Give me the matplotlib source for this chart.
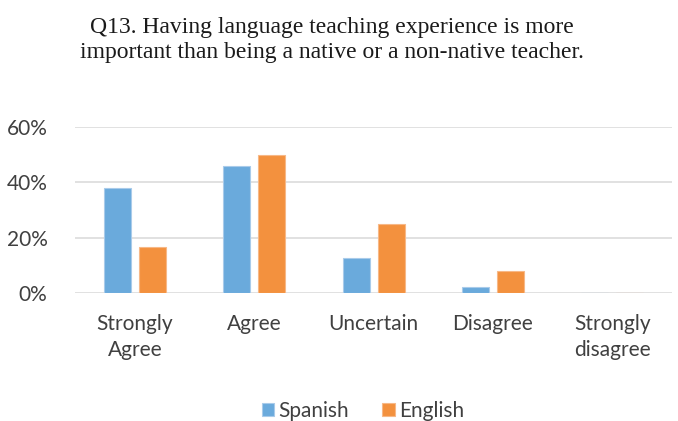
import numpy as np
import matplotlib
matplotlib.use("Agg")
import matplotlib.pyplot as plt
from matplotlib.ticker import PercentFormatter

categories = ["Strongly\nAgree", "Agree", "Uncertain", "Disagree", "Strongly\ndisagree"]
spanish = [0.38, 0.46, 0.127, 0.022, 0.0]
english = [0.167, 0.50, 0.25, 0.08, 0.0]
yticks = [0.0, 0.2, 0.4, 0.6]

fig = plt.figure(figsize=(6.78, 4.21), dpi=100)
ax = fig.add_axes([0.111, 0.304, 0.880, 0.394])

x = np.arange(len(categories))
w = 0.226
gap = 0.067
ax.bar(x - (w + gap) / 2, spanish, w, color="#6AAADC", edgecolor="#A9CBEA", linewidth=0.8, label="Spanish", zorder=3)
ax.bar(x + (w + gap) / 2, english, w, color="#F3913E", edgecolor="#F7B887", linewidth=0.8, label="English", zorder=3)

ax.set_xlim(-0.5, len(categories) - 0.5)
ax.set_ylim(0, 0.6)
ax.set_yticks(yticks)
ax.yaxis.set_major_formatter(PercentFormatter(1.0, decimals=0))
ax.set_xticks(x)
ax.set_xticklabels(categories, fontsize=15, color="#404040", family="Lato", linespacing=1.4)
for lab in ax.get_yticklabels():
    lab.set_fontsize(15)
    lab.set_color("#404040")
    lab.set_family("Lato")
ax.tick_params(axis="y", length=0, pad=20)
ax.tick_params(axis="x", length=0, pad=15)
ax.grid(axis="y", color="#DCDCDC", linewidth=1.2, zorder=0)
for s in ax.spines.values():
    s.set_visible(False)

fig.text(0.489, 0.905, "Q13. Having language teaching experience is more\nimportant than being a native or a non-native teacher.",
         ha="center", va="center", fontsize=17, family="Liberation Serif", color="#1a1a1a", linespacing=1.25)

leg = fig.legend(loc="center", bbox_to_anchor=(0.535, 0.024), ncol=2, frameon=False,
                 prop={"family": "Lato", "size": 15}, handlelength=0.6, handleheight=0.6,
                 handletextpad=0.2, columnspacing=1.6)
for t in leg.get_texts():
    t.set_color("#404040")

fig.savefig("out.png", dpi=100)
